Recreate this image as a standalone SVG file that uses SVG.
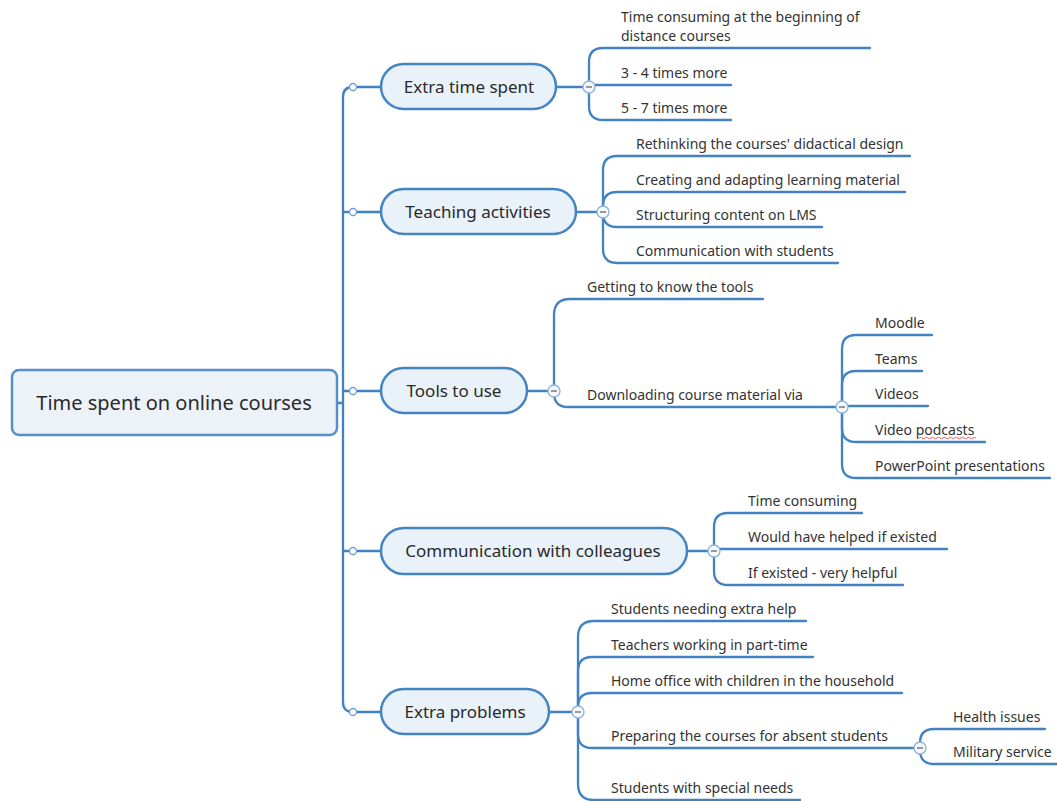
<svg xmlns="http://www.w3.org/2000/svg" width="1057" height="801" viewBox="0 0 1057 801">
<defs>
<style>
.bg{fill:#ffffff}
.root{fill:#edf2f9;stroke:#5590c8;stroke-width:2.5}
.pill{fill:#e9f1f9;stroke:#4584c2;stroke-width:2.5}
.rt{font-family:"Noto Sans","Open Sans","DejaVu Sans",sans-serif;font-size:20px;fill:#2a2a2a;text-anchor:middle}
.bt{font-family:"Noto Sans","Open Sans","DejaVu Sans",sans-serif;font-size:17px;fill:#2a2a2a;text-anchor:middle}
.lt{font-family:"Noto Sans","Open Sans","DejaVu Sans",sans-serif;font-size:14px;fill:#333333}
.ln{fill:none;stroke:#4282c2;stroke-width:2.3;stroke-linecap:round}
.dot{fill:#ffffff;stroke:#6f9fcc;stroke-width:1.3}
.col{fill:#f4f7fb;stroke:#8fb2d6;stroke-width:1.3}
.dash{stroke:#666;stroke-width:1.3}
.sq{fill:none;stroke:#e05050;stroke-width:0.9}
</style>
</defs>
<rect class="bg" x="0" y="0" width="1057" height="801"/>
<g id="connectors">
<path class="ln" d="M337 403 H343"/>
<path class="ln" d="M353 87 Q343 87 343 97 V702 Q343 712 353 712"/>
<path class="ln" d="M343 212 H381 M343 391 H381 M343 551 H381 M353 87 H381 M353 712 H381"/>
<path class="ln" d="M556 87 H589 M576 212 H603 M527 391 H554 M687 551 H714 M549 712 H578"/>
<path class="ln" d="M589 87 V62 Q589 48 603 48 H870"/>
<path class="ln" d="M589 85 H731"/>
<path class="ln" d="M589 87 V106 Q589 120 603 120 H731"/>
<path class="ln" d="M603 212 V170 Q603 156 617 156 H910"/>
<path class="ln" d="M603 212 V206 Q603 192 617 192 H905"/>
<path class="ln" d="M603 212 V213 Q603 227 617 227 H822"/>
<path class="ln" d="M603 212 V249 Q603 263 617 263 H838"/>
<path class="ln" d="M554 391 V315 Q554 299 570 299 H763"/>
<path class="ln" d="M554 391 V393 Q554 407 568 407 H842"/>
<path class="ln" d="M842 407 V349 Q842 335 856 335 H932"/>
<path class="ln" d="M842 407 V385 Q842 371 856 371 H922"/>
<path class="ln" d="M842 406 H928"/>
<path class="ln" d="M842 407 V428 Q842 442 856 442 H985"/>
<path class="ln" d="M842 407 V464 Q842 478 856 478 H1050"/>
<path class="ln" d="M714 551 V527 Q714 513 728 513 H862"/>
<path class="ln" d="M714 549 H947"/>
<path class="ln" d="M714 551 V571 Q714 585 728 585 H903"/>
<path class="ln" d="M578 712 V637 Q578 621 594 621 H806"/>
<path class="ln" d="M578 712 V671 Q578 657 592 657 H813"/>
<path class="ln" d="M578 712 V707 Q578 693 592 693 H902"/>
<path class="ln" d="M578 712 V734 Q578 748 592 748 H920"/>
<path class="ln" d="M578 712 V784 Q578 800 594 800 H800"/>
<path class="ln" d="M920 748 V743 Q920 729 934 729 H1045"/>
<path class="ln" d="M920 748 V750 Q920 764 934 764 H1057"/>
<circle class="dot" cx="353" cy="87" r="3.5"/>
<circle class="dot" cx="353" cy="212" r="3.5"/>
<circle class="dot" cx="353" cy="391" r="3.5"/>
<circle class="dot" cx="353" cy="551" r="3.5"/>
<circle class="dot" cx="353" cy="712" r="3.5"/>
<g><circle class="col" cx="589" cy="87" r="6"/><path class="dash" d="M586 87 H592"/></g>
<g><circle class="col" cx="603" cy="212" r="6"/><path class="dash" d="M600 212 H606"/></g>
<g><circle class="col" cx="554" cy="391" r="6"/><path class="dash" d="M551 391 H557"/></g>
<g><circle class="col" cx="842" cy="407" r="6"/><path class="dash" d="M839 407 H845"/></g>
<g><circle class="col" cx="714" cy="551" r="6"/><path class="dash" d="M711 551 H717"/></g>
<g><circle class="col" cx="578" cy="712" r="6"/><path class="dash" d="M575 712 H581"/></g>
<g><circle class="col" cx="920" cy="748" r="6"/><path class="dash" d="M917 748 H923"/></g>
</g>
<g id="root">
<rect class="root" x="12" y="370" width="325" height="65" rx="7"/>
<text class="rt" x="174" y="410">Time spent on online courses</text>
</g>
<g id="b1">
<rect class="pill" x="381" y="64" width="175" height="45" rx="22.5"/>
<text class="bt" x="469" y="93">Extra time spent</text>
</g>
<g id="b2">
<rect class="pill" x="381" y="189" width="195" height="45" rx="22.5"/>
<text class="bt" x="478" y="218">Teaching activities</text>
</g>
<g id="b3">
<rect class="pill" x="381" y="368" width="146" height="45" rx="22.5"/>
<text class="bt" x="454" y="397">Tools to use</text>
</g>
<g id="b4">
<rect class="pill" x="381" y="528" width="306" height="46" rx="23"/>
<text class="bt" x="533" y="557">Communication with colleagues</text>
</g>
<g id="b5">
<rect class="pill" x="381" y="689" width="168" height="45" rx="22.5"/>
<text class="bt" x="465" y="718">Extra problems</text>
</g>
<g id="leaves1">
<text class="lt" x="621" y="22">Time consuming at the beginning of</text>
<text class="lt" x="621" y="41">distance courses</text>
<text class="lt" x="621" y="78">3 - 4 times more</text>
<text class="lt" x="621" y="113">5 - 7 times more</text>
</g>
<g id="leaves2">
<text class="lt" x="636" y="149">Rethinking the courses' didactical design</text>
<text class="lt" x="636" y="185">Creating and adapting learning material</text>
<text class="lt" x="636" y="220">Structuring content on LMS</text>
<text class="lt" x="636" y="256">Communication with students</text>
</g>
<g id="leaves3">
<text class="lt" x="587" y="292">Getting to know the tools</text>
<text class="lt" x="587" y="400">Downloading course material via</text>
<text class="lt" x="875" y="328">Moodle</text>
<text class="lt" x="875" y="364">Teams</text>
<text class="lt" x="875" y="399">Videos</text>
<text class="lt" x="875" y="435">Video podcasts</text>
<path class="sq" d="M919 438 q1.5 -1.5 3 0 t3 0 t3 0 t3 0 t3 0 t3 0 t3 0 t3 0 t3 0 t3 0 t3 0 t3 0 t3 0 t3 0 t3 0 t3 0 t3 0 t3 0 t3 0"/>
<text class="lt" x="875" y="471">PowerPoint presentations</text>
</g>
<g id="leaves4">
<text class="lt" x="748" y="506">Time consuming</text>
<text class="lt" x="748" y="542">Would have helped if existed</text>
<text class="lt" x="748" y="578">If existed - very helpful</text>
</g>
<g id="leaves5">
<text class="lt" x="611" y="614">Students needing extra help</text>
<text class="lt" x="611" y="650">Teachers working in part-time</text>
<text class="lt" x="611" y="686">Home office with children in the household</text>
<text class="lt" x="611" y="741">Preparing the courses for absent students</text>
<text class="lt" x="611" y="793">Students with special needs</text>
<text class="lt" x="953" y="722">Health issues</text>
<text class="lt" x="953" y="757">Military service</text>
</g>
</svg>
